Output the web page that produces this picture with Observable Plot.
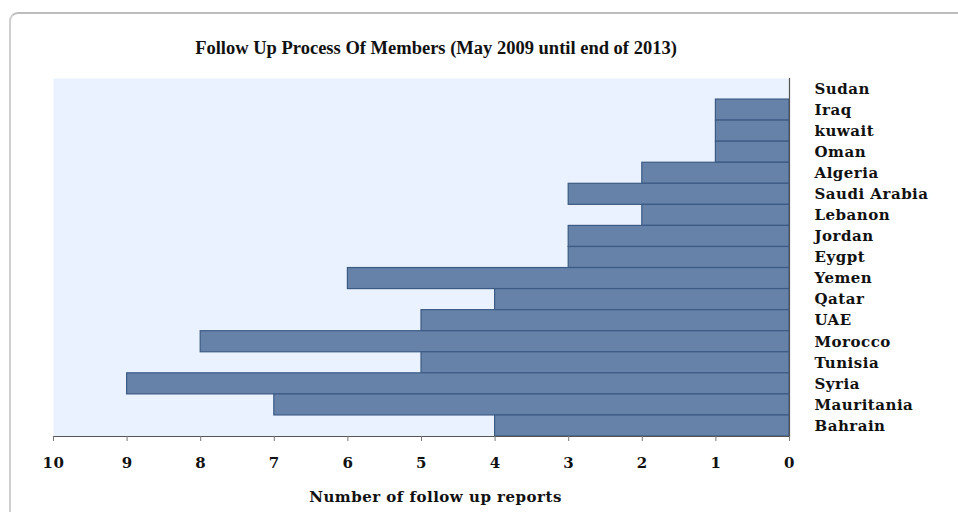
<!DOCTYPE html>
<html>
<head>
<meta charset="utf-8">
<script src="https://cdn.jsdelivr.net/npm/d3@7"></script>
<script src="https://cdn.jsdelivr.net/npm/@observablehq/plot@0.6"></script>
<style>
  html, body { margin: 0; padding: 0; background: #fff; width: 958px; height: 512px; overflow: hidden; }
  #frame { position: absolute; left: 9px; top: 12px; width: 949px; height: 510px; border: 2px solid #cfcfcf; border-right: none; border-top-color: #bdbdbd; border-radius: 9px 0 0 0; box-sizing: border-box; }
  #title { position: absolute; left: 0; width: 872px; top: 38px; text-align: center; font-family: "Liberation Serif", serif; font-weight: bold; font-size: 18.5px; color: #111; }
  #chart { position: absolute; left: 0; top: 70px; }
</style>
</head>
<body>
<div id="frame"></div>
<div id="title">Follow Up Process Of Members (May 2009 until end of 2013)</div>
<div id="chart"></div>
<script>
const countries = ["Sudan", "Iraq", "kuwait", "Oman", "Algeria", "Saudi Arabia", "Lebanon", "Jordan", "Eygpt", "Yemen", "Qatar", "UAE", "Morocco", "Tunisia", "Syria", "Mauritania", "Bahrain"];
const reports = [0, 1, 1, 1, 2, 3, 2, 3, 3, 6, 4, 5, 8, 5, 9, 7, 4];
const xTicks = [0, 1, 2, 3, 4, 5, 6, 7, 8, 9, 10];
const xLabel = "Number of follow up reports";

const data = countries.map((c, i) => ({country: c, value: reports[i]}));

const font = "'DejaVu Serif', serif";
const chart = Plot.plot({
  width: 958,
  height: 442,
  marginLeft: 53,
  marginRight: 169,
  marginTop: 8,
  marginBottom: 76,
  style: {fontFamily: font, fontWeight: "bold", fontSize: "15px", color: "#111", background: "transparent", letterSpacing: "0.5px"},
  x: {domain: [0, 10], reverse: true},
  y: {domain: countries, padding: 0, round: false},
  marks: [
    Plot.frame({fill: "#e9f2fe", stroke: null}),
    Plot.barX(data, {y: "country", x: "value", fill: "#6782a9", stroke: "#3b5a84", strokeWidth: 1.2, inset: 0}),
    Plot.frame({anchor: "bottom", stroke: "#555", strokeWidth: 1.2}),
    Plot.frame({anchor: "right", stroke: "#555", strokeWidth: 1.2}),
    Plot.axisX({ticks: xTicks, tickFormat: d => String(d), tickSize: 5, tickPadding: 16, stroke: "#777", fontSize: 15, fontWeight: "bold", label: null}),
    Plot.axisY({anchor: "right", tickSize: 0, tickPadding: 25, textAnchor: "start", fontSize: 15, fontWeight: "bold", label: null}),
    Plot.text([xLabel], {frameAnchor: "bottom", dy: 65, dx: 14, text: d => d, fontSize: 15, fontWeight: "bold"})
  ]
});
document.getElementById("chart").appendChild(chart);
</script>
</body>
</html>
